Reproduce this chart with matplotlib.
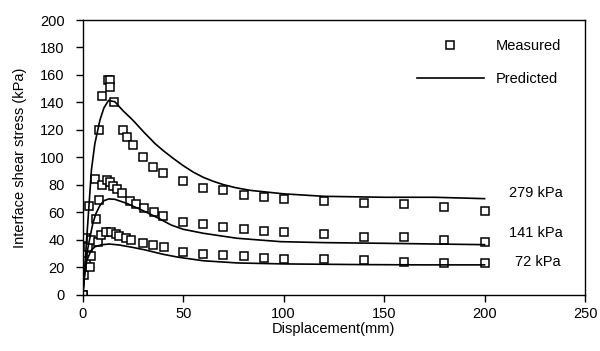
import matplotlib
matplotlib.use("Agg")
from matplotlib import pyplot as plt

plt.rcParams['font.family'] = ['Liberation Sans', 'DejaVu Sans']
plt.rcParams['font.size'] = 10.5

# measured points, one list pair per normal stress
x279 = [0, 1.7, 3.3, 8.2, 9.8, 12.5, 13.3, 13.7, 15.7, 20.2, 21.8, 25, 30, 35, 40,
        50, 60, 70, 80, 90, 100, 120, 140, 160, 180, 200]
y279 = [0, 41, 65, 120, 145, 156, 156, 151, 140, 120, 115, 109, 100, 93, 89,
        83, 78, 76, 73, 71, 70, 68, 66.5, 66, 64, 61]

x141 = [0.8, 2.6, 4.2, 6, 6.8, 8.3, 9.8, 11.8, 13.5, 15.2, 17.2, 19.3, 23.5, 26.5,
        30.5, 35.5, 40, 50, 60, 70, 80, 90, 100, 120, 140, 160, 180, 200]
y141 = [30, 35, 40, 84, 55, 69, 80, 83.6, 82, 79, 77, 74, 68.6, 66,
        63.3, 60.3, 57.7, 53.3, 51.3, 49.6, 48, 46.8, 45.8, 44.4, 42.4, 42, 40, 38.8]

x72 = [0, 0.8, 1.7, 3.4, 3.9, 7.8, 9.3, 11.7, 14.2, 16.7, 18.2, 21.5, 24, 30, 35,
       40.5, 50, 60, 70, 80, 90, 100, 120, 140, 160, 180, 200]
y72 = [0, 14.5, 24.5, 20.6, 28, 38.8, 43.6, 46, 45.5, 44, 43, 41.5, 40, 37.6, 36,
       34.5, 31.5, 29.6, 29, 28.4, 27, 26, 26, 25.5, 24, 23, 23]

# predicted curves
px279 = [0, 2, 4.3, 6, 8.5, 10.5, 12.8, 16, 20, 25, 30, 36, 40, 45, 50, 55, 60,
         65, 70, 76, 83.5, 100, 120, 150, 175, 200]
py279 = [0, 42, 91, 110, 127, 136, 141.5, 140.5, 134, 127, 119, 110, 105, 99.3, 94,
         89.3, 85.5, 82.6, 80.2, 78, 76, 73.5, 71.7, 71, 71, 70]

px141 = [0, 1, 2, 3.6, 5, 6.5, 8.5, 10.5, 13, 16, 22, 31, 38, 44, 50, 60, 76.6,
         98.5, 120, 150, 175, 200]
py141 = [0, 18, 30, 42, 52, 59, 65, 68.5, 69.8, 69.5, 66.5, 60.6, 55.5, 50.8,
         47.7, 44.8, 41.2, 38.7, 38, 37.5, 37, 36.5]

px72 = [0, 1, 2, 4, 6, 9.3, 13, 18, 25, 31, 40, 47.5, 60, 77, 100, 140, 170, 200]
py72 = [0, 15, 25, 32, 35, 36.4, 37, 36.3, 34.5, 32.7, 29.5, 27.4, 24.8, 23.2,
        22.5, 22, 21.8, 21.8]

labels = ['279 kPa', '141 kPa', '72 kPa']
label_x = [212, 212, 215]
label_y = [74, 45, 24]

fig = plt.figure(figsize=(6, 3.51), dpi=100)
ax = fig.add_axes([0.138, 0.16, 0.837, 0.783])

mk = dict(marker='s', ms=6, mfc='white', mec='black', mew=1.1, ls='none')
ax.plot(x279, y279, label='Measured', **mk)
ax.plot(x141, y141, **mk)
ax.plot(x72, y72, **mk)

ax.plot(px279, py279, color='black', lw=1.2, label='Predicted')
ax.plot(px141, py141, color='black', lw=1.2)
ax.plot(px72, py72, color='black', lw=1.2)

for t, tx, ty in zip(labels, label_x, label_y):
    ax.text(tx, ty, t, va='center', ha='left')

ax.set_xlim(0, 250)
ax.set_ylim(0, 200)
ax.set_xticks(range(0, 251, 50))
ax.set_yticks(range(0, 201, 20))
ax.tick_params(direction='out', length=5, width=1)
ax.tick_params(axis='y', pad=8)
for s in ax.spines.values():
    s.set_linewidth(1)

ax.set_xlabel('Displacement(mm)', labelpad=1)
ax.set_ylabel('Interface shear stress (kPa)')
ax.yaxis.set_label_coords(-0.112, 0.5)

ax.legend(loc='upper left', bbox_to_anchor=(0.665, 0.93), frameon=False,
          handlelength=4.6, handletextpad=0.8, labelspacing=1.3, borderpad=0,
          borderaxespad=0)

fig.savefig('out.png', dpi=100)
